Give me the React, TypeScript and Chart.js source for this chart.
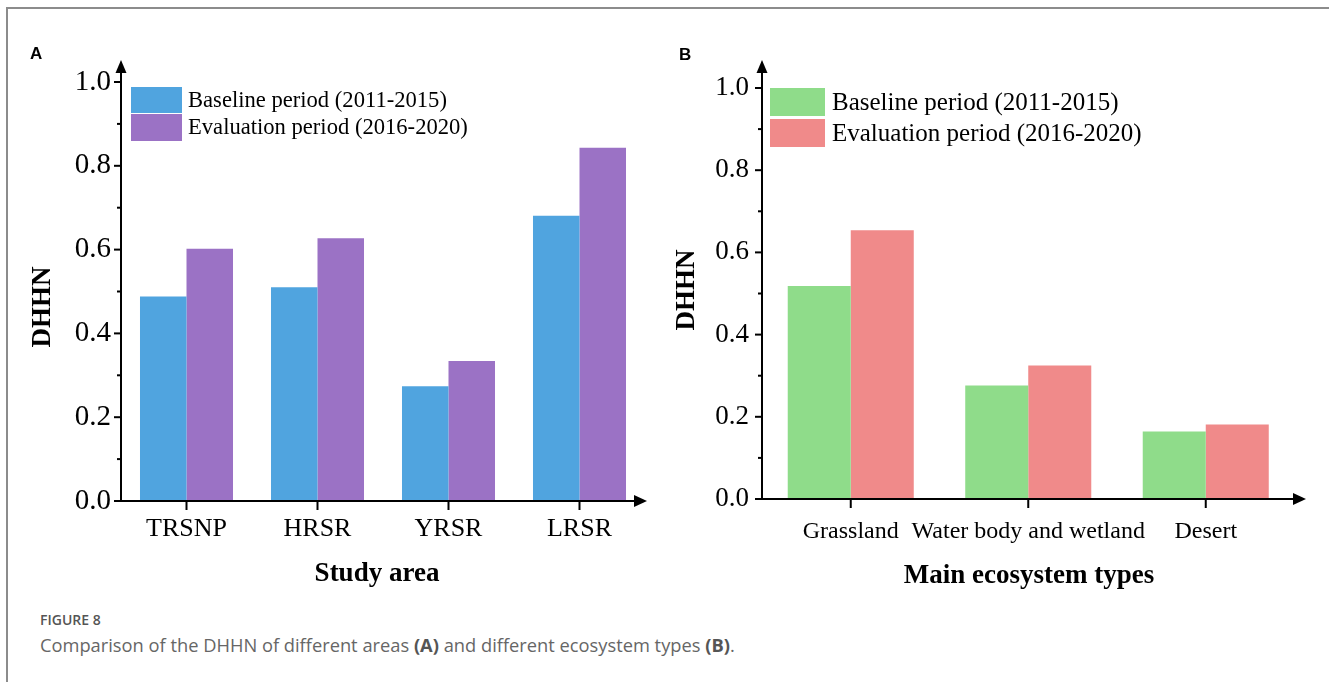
import React, { useEffect, useRef } from 'react';
import { Chart, registerables } from 'chart.js';

Chart.register(...registerables);

// ---------- data ----------
const seriesLabels = ['Baseline period (2011-2015)', 'Evaluation period (2016-2020)'];

const areaCategories = ['TRSNP', 'HRSR', 'YRSR', 'LRSR'];
const areaBaseline = [0.488, 0.51, 0.274, 0.681];
const areaEvaluation = [0.602, 0.627, 0.334, 0.843];

const ecoCategories = ['Grassland', 'Water body and wetland', 'Desert'];
const ecoBaseline = [0.518, 0.276, 0.164];
const ecoEvaluation = [0.654, 0.325, 0.181];

const yMajorTicks = [0, 0.2, 0.4, 0.6, 0.8, 1.0];
const yMinorTicks = [0.1, 0.3, 0.5, 0.7, 0.9];

const yAxisLabel = 'DHHN';
const areaAxisLabel = 'Study area';
const ecoAxisLabel = 'Main ecosystem types';

const captionHead = 'FIGURE 8';

const SERIF = "'Liberation Serif', 'Times New Roman', serif";

type PanelCfg = {
  categories: string[];
  baseline: number[];
  evaluation: number[];
  colors: [string, string];
  canvasLeft: number;
  canvasWidth: number;
  canvasHeight: number;
  area: { left: number; right: number; top: number; bottom: number };
  yTickFont: number;
  yTickPad: number;
  xTickFont: number;
  xTickPad: number;
  legend: { x: number; boxW: number; rows: [number, number][]; font: number; textX: number };
  yTitle: { x: number; y: number };
  xTitle: { x: number; y: number; text: string };
  arrowTipY: number;
  arrowTipX: number;
};

function makeDecor(cfg: PanelCfg) {
  return {
    id: 'decor',
    afterDraw(chart: any) {
      const { ctx, chartArea } = chart;
      const { left } = chartArea;
      const x = chart.scales.x;
      const y = chart.scales.y;
      const y0 = y.getPixelForValue(0);
      ctx.save();
      ctx.strokeStyle = '#000';
      ctx.fillStyle = '#000';
      ctx.lineWidth = 2;
      const line = (x1: number, y1: number, x2: number, y2: number) => {
        ctx.beginPath();
        ctx.moveTo(x1, y1);
        ctx.lineTo(x2, y2);
        ctx.stroke();
      };
      // y axis + arrow
      line(left, y0 + 1, left, cfg.arrowTipY + 8);
      ctx.beginPath();
      ctx.moveTo(left, cfg.arrowTipY);
      ctx.lineTo(left - 5.5, cfg.arrowTipY + 13);
      ctx.lineTo(left + 5.5, cfg.arrowTipY + 13);
      ctx.closePath();
      ctx.fill();
      // x axis + arrow
      line(left - 7, y0, cfg.arrowTipX - 8, y0);
      ctx.beginPath();
      ctx.moveTo(cfg.arrowTipX, y0);
      ctx.lineTo(cfg.arrowTipX - 13, y0 - 6);
      ctx.lineTo(cfg.arrowTipX - 13, y0 + 6);
      ctx.closePath();
      ctx.fill();
      // ticks
      yMajorTicks.forEach((v) => {
        const p = y.getPixelForValue(v);
        line(left - 7, p, left, p);
      });
      yMinorTicks.forEach((v) => {
        const p = y.getPixelForValue(v);
        line(left - 4, p, left, p);
      });
      cfg.categories.forEach((_, i) => {
        const p = x.getPixelForValue(i);
        line(p, y0, p, y0 + 9);
      });
      // legend
      ctx.textAlign = 'left';
      ctx.textBaseline = 'middle';
      ctx.font = `${cfg.legend.font}px ${SERIF}`;
      chart.data.datasets.forEach((ds: any, i: number) => {
        const [ry0, ry1] = cfg.legend.rows[i];
        ctx.fillStyle = ds.backgroundColor;
        ctx.fillRect(cfg.legend.x, ry0, cfg.legend.boxW, ry1 - ry0);
        ctx.fillStyle = '#000';
        ctx.fillText(ds.label, cfg.legend.textX, (ry0 + ry1) / 2 + 1);
      });
      // axis titles
      ctx.font = `bold 27px ${SERIF}`;
      ctx.fillStyle = '#000';
      ctx.textAlign = 'center';
      ctx.textBaseline = 'alphabetic';
      ctx.fillText(cfg.xTitle.text, cfg.xTitle.x, cfg.xTitle.y);
      ctx.save();
      ctx.translate(cfg.yTitle.x, cfg.yTitle.y);
      ctx.rotate(-Math.PI / 2);
      ctx.textBaseline = 'middle';
      ctx.fillText(yAxisLabel, 0, 0);
      ctx.restore();
      ctx.restore();
    },
  };
}

function Panel({ cfg }: { cfg: PanelCfg }) {
  const ref = useRef<HTMLCanvasElement | null>(null);
  useEffect(() => {
    if (!ref.current) return;
    const a = cfg.area;
    const chart = new Chart(ref.current, {
      type: 'bar',
      data: {
        labels: cfg.categories,
        datasets: [
          { label: seriesLabels[0], data: cfg.baseline, backgroundColor: cfg.colors[0], borderWidth: 0 },
          { label: seriesLabels[1], data: cfg.evaluation, backgroundColor: cfg.colors[1], borderWidth: 0 },
        ],
      },
      options: {
        responsive: false,
        animation: false,
        devicePixelRatio: 1,
        layout: {
          padding: { top: a.top, left: 0, right: cfg.canvasWidth - a.right, bottom: 0 },
        },
        datasets: { bar: { categoryPercentage: 0.71, barPercentage: 1.0 } },
        plugins: { legend: { display: false }, tooltip: { enabled: false }, title: { display: false } },
        scales: {
          x: {
            type: 'category',
            offset: true,
            grid: { display: false, drawTicks: false },
            border: { display: false },
            ticks: {
              color: '#000',
              padding: cfg.xTickPad,
              maxRotation: 0,
              autoSkip: false,
              font: { family: SERIF, size: cfg.xTickFont },
            },
            afterFit: (s: any) => {
              s.height = cfg.canvasHeight - a.bottom;
            },
          },
          y: {
            type: 'linear',
            min: 0,
            max: 1.0,
            grid: { display: false, drawTicks: false },
            border: { display: false },
            afterBuildTicks: (s: any) => {
              s.ticks = yMajorTicks.map((v) => ({ value: v }));
            },
            ticks: {
              color: '#000',
              padding: cfg.yTickPad,
              font: { family: SERIF, size: cfg.yTickFont },
              callback: (v: any) => Number(v).toFixed(1),
            },
            afterFit: (s: any) => {
              s.width = a.left;
            },
          },
        },
      },
      plugins: [makeDecor(cfg)],
    } as any);
    return () => chart.destroy();
  }, [cfg]);
  return (
    <canvas
      ref={ref}
      width={cfg.canvasWidth}
      height={cfg.canvasHeight}
      style={{ position: 'absolute', left: cfg.canvasLeft, top: 0, width: cfg.canvasWidth, height: cfg.canvasHeight }}
    />
  );
}

const panelA: PanelCfg = {
  categories: areaCategories,
  baseline: areaBaseline,
  evaluation: areaEvaluation,
  colors: ['#50a4df', '#9b72c5'],
  canvasLeft: 0,
  canvasWidth: 665,
  canvasHeight: 600,
  area: { left: 121, right: 645, top: 82, bottom: 501 },
  yTickFont: 29,
  yTickPad: 10,
  xTickFont: 26,
  xTickPad: 13,
  legend: { x: 131, boxW: 51, rows: [[87, 113], [114, 141]], font: 22.6, textX: 188 },
  yTitle: { x: 43, y: 307 },
  xTitle: { x: 377, y: 581, text: areaAxisLabel },
  arrowTipY: 60,
  arrowTipX: 647,
};

const panelB: PanelCfg = {
  categories: ecoCategories,
  baseline: ecoBaseline,
  evaluation: ecoEvaluation,
  colors: ['#8fdc8a', '#f08a8a'],
  canvasLeft: 665,
  canvasWidth: 664,
  canvasHeight: 600,
  area: { left: 97, right: 629.5, top: 88, bottom: 499 },
  yTickFont: 27,
  yTickPad: 13,
  xTickFont: 24,
  xTickPad: 18,
  legend: { x: 105, boxW: 55, rows: [[88, 116], [119, 147]], font: 25, textX: 167 },
  yTitle: { x: 22, y: 290 },
  xTitle: { x: 364, y: 583, text: ecoAxisLabel },
  arrowTipY: 60,
  arrowTipX: 641,
};

export default function App() {
  return (
    <div
      style={{
        position: 'fixed',
        left: 0,
        top: 0,
        width: 1329,
        height: 682,
        background: '#fff',
        overflow: 'hidden',
      }}
    >
      <div style={{ position: 'absolute', left: 6, top: 7, width: 1323, height: 2, background: '#8c8c8c' }} />
      <div style={{ position: 'absolute', left: 6, top: 7, width: 2, height: 675, background: '#8c8c8c' }} />
      <Panel cfg={panelA} />
      <Panel cfg={panelB} />
      <div
        style={{
          position: 'absolute',
          left: 30,
          top: 45,
          font: "bold 17px 'Liberation Sans', Arial, sans-serif",
          lineHeight: '17px',
          color: '#000',
        }}
      >
        A
      </div>
      <div
        style={{
          position: 'absolute',
          left: 679,
          top: 46,
          font: "bold 17px 'Liberation Sans', Arial, sans-serif",
          lineHeight: '17px',
          color: '#000',
        }}
      >
        B
      </div>
      <div
        style={{
          position: 'absolute',
          left: 40,
          top: 613,
          font: "600 14px 'Open Sans', Lato, sans-serif",
          lineHeight: '14px',
          color: '#555',
          whiteSpace: 'nowrap',
        }}
      >
        {captionHead}
      </div>
      <div
        style={{
          position: 'absolute',
          left: 40,
          top: 636,
          font: "18.3px 'Open Sans', Lato, sans-serif",
          lineHeight: '18px',
          color: '#666',
          whiteSpace: 'nowrap',
        }}
      >
        Comparison of the DHHN of different areas <b style={{ color: '#555', fontWeight: 700 }}>(A)</b> and different
        ecosystem types <b style={{ color: '#555', fontWeight: 700 }}>(B)</b>.
      </div>
    </div>
  );
}
